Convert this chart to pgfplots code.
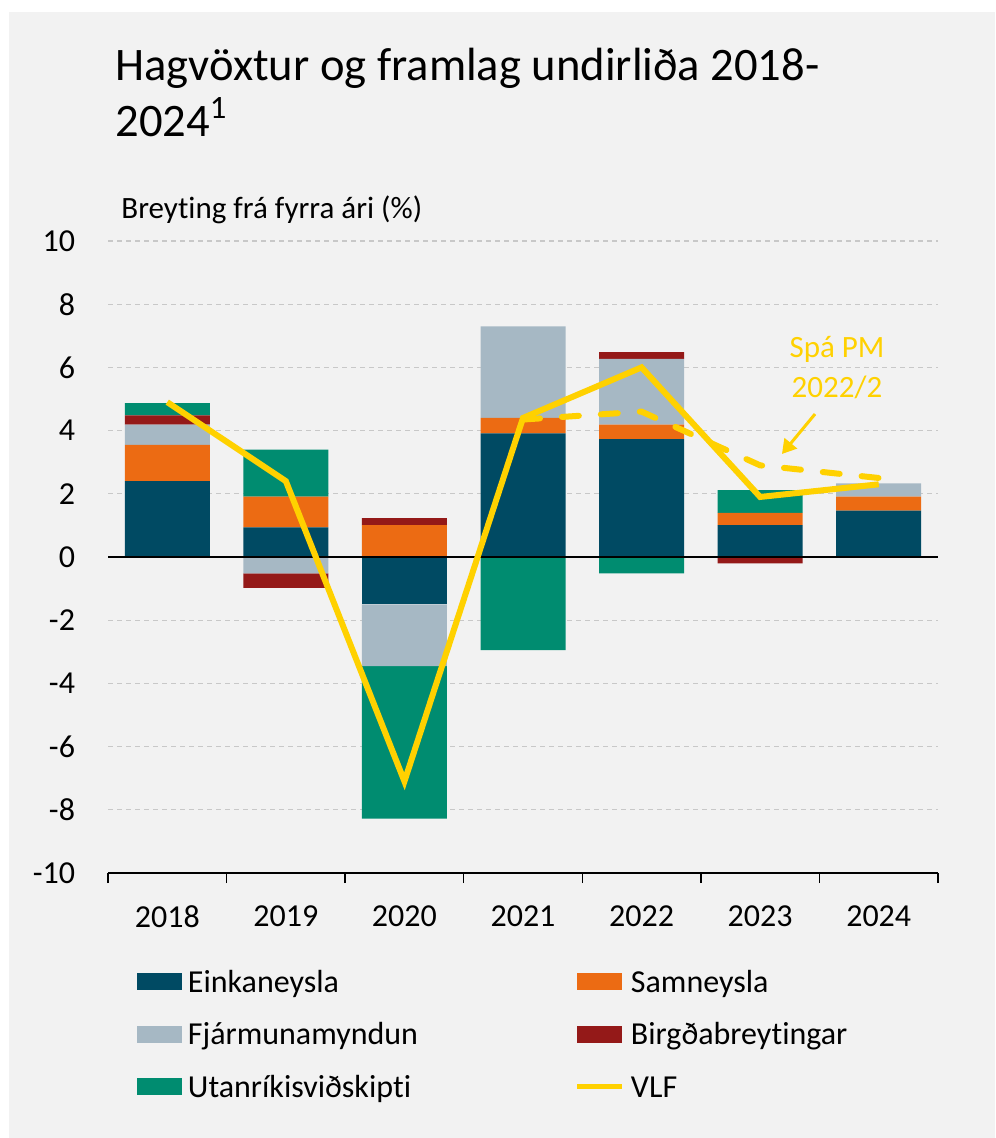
\documentclass[border=0pt]{standalone}
\usepackage{fontspec}
\setmainfont{Carlito}[Ligatures={NoCommon,NoContextual}]
\usepackage{pgfplots}
\pgfplotsset{compat=1.18}
\usetikzlibrary{arrows.meta}
\definecolor{einka}{RGB}{0,74,99}
\definecolor{samn}{RGB}{236,107,19}
\definecolor{fjar}{RGB}{166,184,196}
\definecolor{birgd}{RGB}{148,25,24}
\definecolor{utan}{RGB}{0,140,112}
\definecolor{vlf}{RGB}{255,209,0}
\definecolor{bggray}{RGB}{242,242,242}
\definecolor{gridc}{RGB}{200,200,200}
\pgfplotsset{
  base/.style={width=415pt, height=316pt, scale only axis,
    xmin=-0.5, xmax=6.5, ymin=-10, ymax=10},
  barbase/.style={base, ybar stacked, bar width=42.5pt},
  barimg/.style={legend image code/.code={\fill[##1] (0pt,-2.6pt) rectangle (22.5pt,5.9pt);}},
  lineimg/.style={legend image code/.code={\draw[##1] (0pt,1.65pt) -- (22.5pt,1.65pt);}},
}
\begin{document}
\begin{tikzpicture}
\fill[white] (-54pt,-132.5pt) rectangle (443.5pt,436.5pt);
\fill[bggray] (-49.5pt,-132.5pt) rectangle (443.5pt,430.5pt);
\node[anchor=base west, inner sep=0pt, font=\fontsize{23.3}{28}\selectfont] at (3.5pt,396pt) {Hagvöxtur og framlag undirliða 2018-};
\node[anchor=base west, inner sep=0pt, font=\fontsize{23.3}{28}\selectfont] at (3.5pt,368pt) {2024\textsuperscript{1}};
\node[anchor=base west, inner sep=0pt, font=\fontsize{15.5}{18}\selectfont] at (6.5pt,327pt) {Breyting frá fyrra ári (\%)};

% positive parts
\begin{axis}[barbase,
  axis x line*=bottom, axis y line*=left,
  y axis line style={draw=none},
  x axis line style={-, black, line width=1pt},
  ytick={-10,-8,...,10}, ytick style={draw=none},
  xtick={-0.5,0.5,...,6.5}, xticklabels={2018,2019,2020,2021,2022,2023,2024,{}},
  tick align=outside, major tick length=5pt,
  xtick style={black, line width=0.75pt},
  ymajorgrids, grid style={gridc, line width=0.6pt, dash pattern=on 2.5pt off 2pt},
  /pgf/number format/assume math mode=true,
  ticklabel style={font=\fontsize{16}{19}\selectfont},
  yticklabel style={anchor=east, inner sep=0pt, xshift=-11.3pt},
  xticklabel style={anchor=north, inner sep=0pt, xshift=29.643pt, yshift=-11pt},
  legend columns=2,
  legend cell align=left,
  legend style={at={(axis description cs:0.0349,-0.1535)}, anchor=north west,
    draw=none, fill=none, inner sep=0pt, outer sep=0pt,
    font=\fontsize{16}{19}\selectfont,
    nodes={inner sep=0pt, text width=170pt, text height=11pt, text depth=4pt, align=left},
    /tikz/every odd column/.append style={column sep=3pt},
    /tikz/every even column/.append style={column sep=23.5pt},
    row sep=11.25pt},
]
\addplot[fill=einka, draw=none, barimg] coordinates {(0,2.40) (1,0.94) (2,0) (3,3.91) (4,3.73) (5,1.01) (6,1.47)};
\addlegendentry{Einkaneysla}
\addplot[fill=samn, draw=none, barimg] coordinates {(0,1.15) (1,0.97) (2,1.01) (3,0.49) (4,0.46) (5,0.39) (6,0.44)};
\addlegendentry{Samneysla}
\addplot[fill=fjar, draw=none, barimg] coordinates {(0,0.64) (1,0) (2,0) (3,2.90) (4,2.08) (5,0) (6,0.42)};
\addlegendentry{Fjármunamyndun}
\addplot[fill=birgd, draw=none, barimg] coordinates {(0,0.29) (1,0) (2,0.22) (3,0) (4,0.21) (5,0) (6,0)};
\addlegendentry{Birgðabreytingar}
\addplot[fill=utan, draw=none, barimg] coordinates {(0,0.39) (1,1.49) (2,0) (3,0) (4,0) (5,0.72) (6,0)};
\addlegendentry{Utanríkisviðskipti}
\addlegendimage{vlf, line width=2.5pt, lineimg}
\addlegendentry{VLF}
\end{axis}

% negative parts
\begin{axis}[barbase, hide axis]
\addplot[fill=einka, draw=none] coordinates {(0,0) (1,0) (2,-1.50) (3,0) (4,0) (5,0) (6,0)};
\addplot[fill=samn, draw=none] coordinates {(0,0) (1,0) (2,0) (3,0) (4,0) (5,0) (6,0)};
\addplot[fill=fjar, draw=none] coordinates {(0,0) (1,-0.52) (2,-1.95) (3,0) (4,0) (5,0) (6,0)};
\addplot[fill=birgd, draw=none] coordinates {(0,0) (1,-0.46) (2,0) (3,0) (4,0) (5,-0.20) (6,0)};
\addplot[fill=utan, draw=none] coordinates {(0,0) (1,0) (2,-4.83) (3,-2.95) (4,-0.52) (5,0) (6,0)};
\end{axis}

% lines
\begin{axis}[base, hide axis]
\addplot[black, line width=1pt] coordinates {(-0.5,0) (6.5,0)};
\addplot[vlf, line width=3pt, line cap=round, dash pattern=on 8.5pt off 11pt] coordinates {(3,4.35) (4,4.6) (5,2.9) (6,2.5)};
\addplot[vlf, line width=3pt] coordinates {(0,4.9) (1,2.4) (2,-7.1) (3,4.4) (4,6.0) (5,1.9) (6,2.3)};
\draw[vlf, line width=1.5pt, -{Triangle[length=7pt,width=8pt]}] (axis cs:5.463,4.525) -- (axis cs:5.184,3.26);
\node[vlf, anchor=base, inner sep=0pt, font=\fontsize{15.5}{18}\selectfont] at (axis cs:5.648,6.30) {Spá PM};
\node[vlf, anchor=base, inner sep=0pt, font=\fontsize{15.5}{18}\selectfont] at (axis cs:5.648,5.06) {2022/2};
\end{axis}
\pgfresetboundingbox
\useasboundingbox (-54pt,-132.5pt) rectangle (443.5pt,436.5pt);
\end{tikzpicture}
\end{document}
